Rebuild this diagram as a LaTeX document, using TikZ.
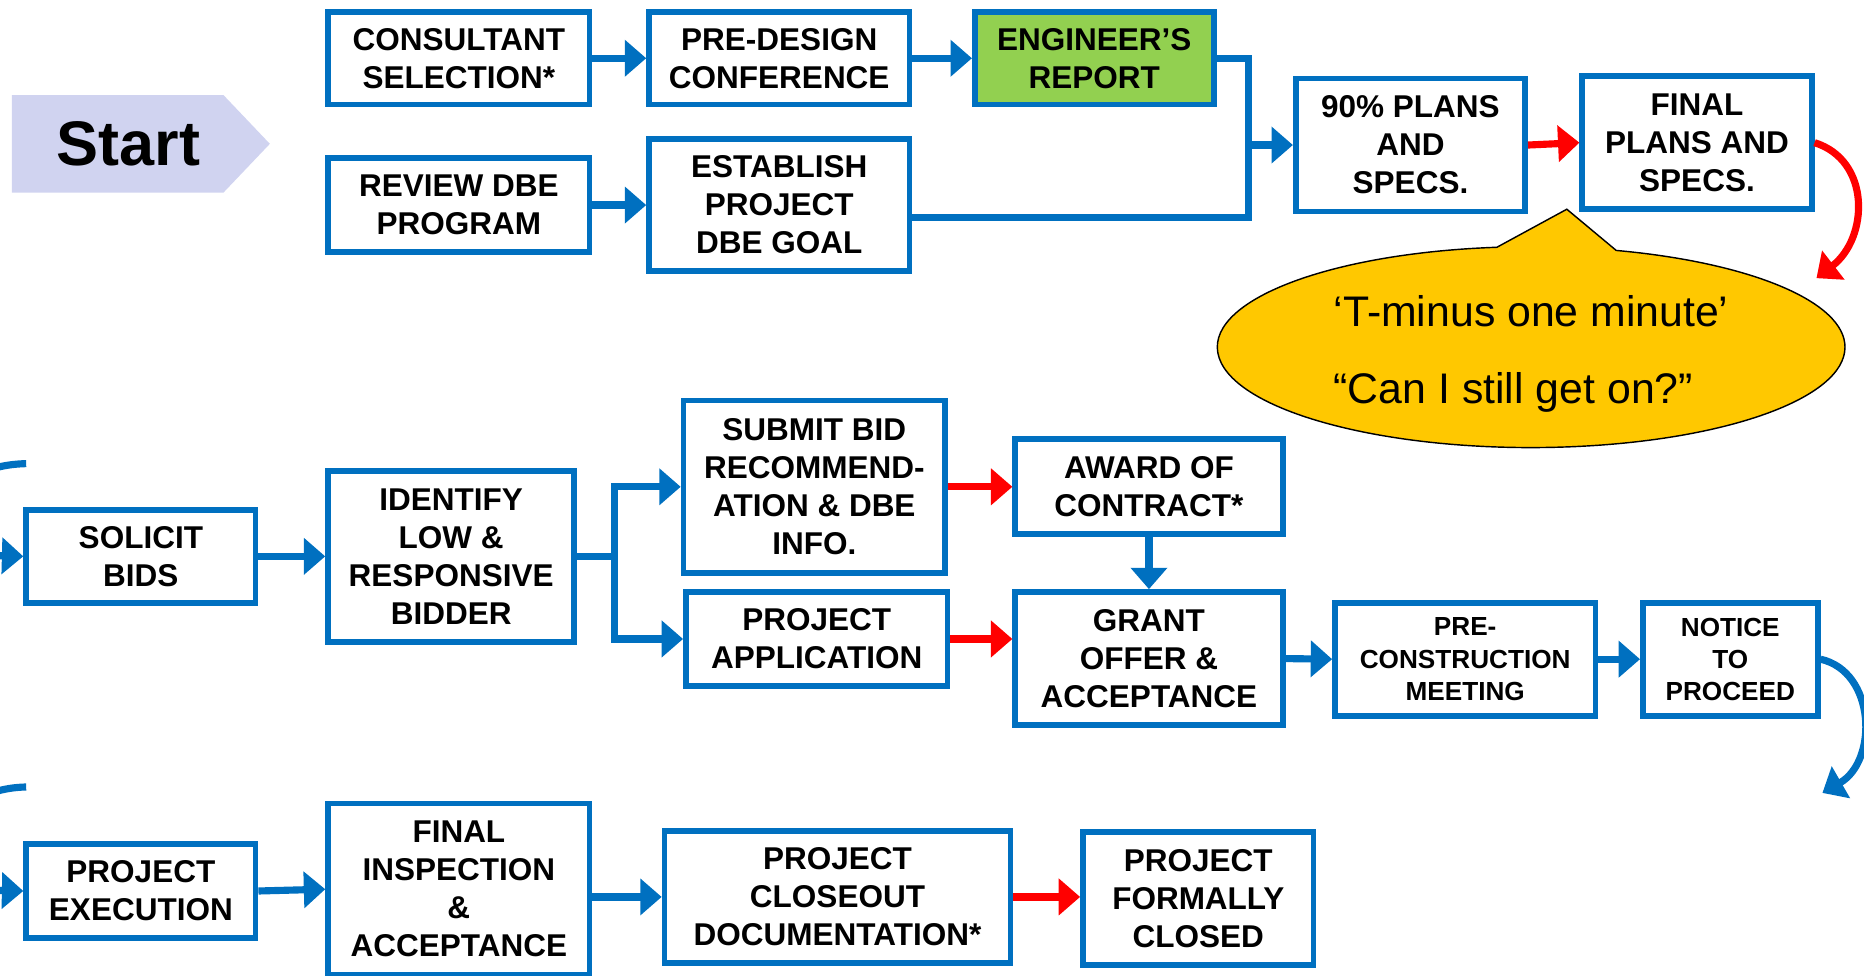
\documentclass[tikz,border=0pt]{standalone}
\usepackage{fontspec}
\setmainfont{Liberation Sans}
\usepackage{tikz}
\usetikzlibrary{calc}
\usetikzlibrary{positioning}
\usetikzlibrary{shapes.callouts}
\usetikzlibrary {arrows.meta}
\usepackage{xcolor}
\definecolor{boxblue}{RGB}{0,112,192}
\definecolor{engreen}{RGB}{146,208,80}
\definecolor{startlav}{RGB}{208,211,240}
\definecolor{bubble}{RGB}{255,200,0}

\begin{document}
\begin{tikzpicture}[x=1pt, y=-1pt,
		t/.style = {rectangle, draw=boxblue, fill=white, line width=4.8pt, align=center, inner sep=0pt, font=\fontsize{26.5}{32}\selectfont\bfseries},
		s/.style = {t, font=\fontsize{22}{27}\selectfont\bfseries},
		r/.style = {-{Triangle[length=18pt, width=30pt]}, line width=6pt, boxblue},
		rr/.style = {r, red},
		l/.style = {line width=6pt, boxblue}
		]
		
		\useasboundingbox (0,0) rectangle (1568,821);
		\clip (0,0) rectangle (1568,821);
		
		%Start
		\fill[startlav] (10,80) -- (188,80) -- (227,121) -- (188,162) -- (10,162) -- cycle;
		\node[font=\fontsize{53}{60}\selectfont\bfseries]	(st)	at	(108,121)	{Start};
		
		%Nodes
		\node[t, minimum width=220pt, minimum height=78pt]	(cs)	at	(386,49)	{CONSULTANT\\SELECTION*};
		\node[t, minimum width=219pt, minimum height=78pt]	(pd)	at	(655.5,49)	{PRE-DESIGN\\CONFERENCE};
		\node[t, fill=engreen, minimum width=201pt, minimum height=78pt]	(er)	at	(920.5,49)	{ENGINEER’S\\REPORT};
		\node[t, minimum width=220pt, minimum height=79pt]	(rd)	at	(386,172.5)	{REVIEW DBE\\PROGRAM};
		\node[t, minimum width=219pt, minimum height=111pt]	(eg)	at	(655.5,172.5)	{ESTABLISH\\PROJECT\\DBE GOAL};
		\node[t, minimum width=193pt, minimum height=112pt]	(p90)	at	(1186.5,122)	{90\% PLANS\\AND\\SPECS.};
		\node[t, minimum width=193pt, minimum height=112pt]	(fp)	at	(1427.5,120)	{FINAL\\PLANS AND\\SPECS.};
		
		\node[t, minimum width=193pt, minimum height=78pt]	(sb)	at	(118.5,468)	{SOLICIT\\BIDS};
		\node[t, minimum width=207pt, minimum height=144pt]	(il)	at	(379.5,468)	{IDENTIFY\\LOW \&\\RESPONSIVE\\BIDDER};
		\node[t, minimum width=220pt, minimum height=145pt]	(sbr)	at	(685,409.5)	{SUBMIT BID\\RECOMMEND-\\ATION \& DBE\\INFO.};
		\node[t, minimum width=220pt, minimum height=79pt]	(pa)	at	(687,537.5)	{PROJECT\\APPLICATION};
		\node[t, minimum width=225pt, minimum height=80pt]	(ac)	at	(966.5,409)	{AWARD OF\\CONTRACT*};
		\node[t, minimum width=225pt, minimum height=112pt]	(go)	at	(966.5,554)	{GRANT\\OFFER \&\\ACCEPTANCE};
		\node[s, minimum width=219pt, minimum height=95pt]	(pc)	at	(1232.5,554.5)	{PRE-\\CONSTRUCTION\\MEETING};
		\node[s, minimum width=147pt, minimum height=95pt]	(np)	at	(1455.5,554.5)	{NOTICE\\TO\\PROCEED};
		
		\node[t, minimum width=193pt, minimum height=79pt]	(pe)	at	(118.5,749.5)	{PROJECT\\EXECUTION};
		\node[t, minimum width=220pt, minimum height=144pt]	(fi)	at	(386,748)	{FINAL\\INSPECTION\\\&\\ACCEPTANCE};
		\node[t, minimum width=291pt, minimum height=111pt]	(pcd)	at	(704.5,754.5)	{PROJECT\\CLOSEOUT\\DOCUMENTATION*};
		\node[t, minimum width=194pt, minimum height=112pt]	(pfc)	at	(1008,756)	{PROJECT\\FORMALLY\\CLOSED};
		
		%Callout
		\coordinate	(tip)	at	(1318,176);
		\node[ellipse callout, draw=black, line width=1.2pt, fill=bubble, minimum width=528pt, minimum height=169pt, callout absolute pointer={(tip)}, callout pointer arc=22, align=left, font=\fontsize{36}{65}\selectfont]	(tm)	at	(1288,292)	{\rule{0pt}{37pt}‘T-minus one minute’\\“Can I still get on?”};
		
		%Lines
		\coordinate	(jt)	at	(1050,49);
		\coordinate	(jb)	at	(1050,183);
		\coordinate	(ib)	at	(517,468);
		\coordinate	(fpe)	at	(1528,234);
		\coordinate	(npe)	at	(1533,667);
		\coordinate	(sbt)	at	(22,390);
		\coordinate	(pet)	at	(22,662);
		
		\draw[r]	(cs.east)	--	(pd.west);
		\draw[r]	(pd.east)	--	(er.west);
		\draw[r]	(rd.east)	--	(eg.west);
		\draw[l]	(er.east)	--	(jt)	--	(jb)	--	(eg.east |- jb);
		\draw[r]	(jt |- p90)	--	(p90.west);
		\draw[rr]	(p90.east)	--	(fp.west);
		\draw[rr]	(fp.east)	.. controls (1574,135) and (1572,200) ..	(fpe);
		
		\draw[r]	(sbt)	.. controls (-60,392) and (-60,466) ..	(sb.west);
		\draw[r]	(sb.east)	--	(il.west);
		\draw[l]	(il.east)	--	(ib);
		\draw[r]	(ib)	|-	(sbr.west);
		\draw[r]	(ib)	|-	(pa.west);
		\draw[rr]	(sbr.east)	--	(sbr.east -| ac.west);
		\draw[rr]	(pa.east)	--	(pa.east -| go.west);
		\draw[r]	(ac.south)	--	(go.north);
		\draw[r]	(go.east)	--	(pc.west);
		\draw[r]	(pc.east)	--	(np.west);
		\draw[r]	(np.east)	.. controls (1578,565) and (1580,640) ..	(npe);
		
		\draw[r]	(pet)	.. controls (-60,664) and (-60,748) ..	(pe.west);
		\draw[r]	(pe.east)	--	(fi.west);
		\draw[r]	(fi.east |- pcd)	--	(pcd.west);
		\draw[rr]	(pcd.east)	--	(pcd.east -| pfc.west);
	\end{tikzpicture}
\end{document}
